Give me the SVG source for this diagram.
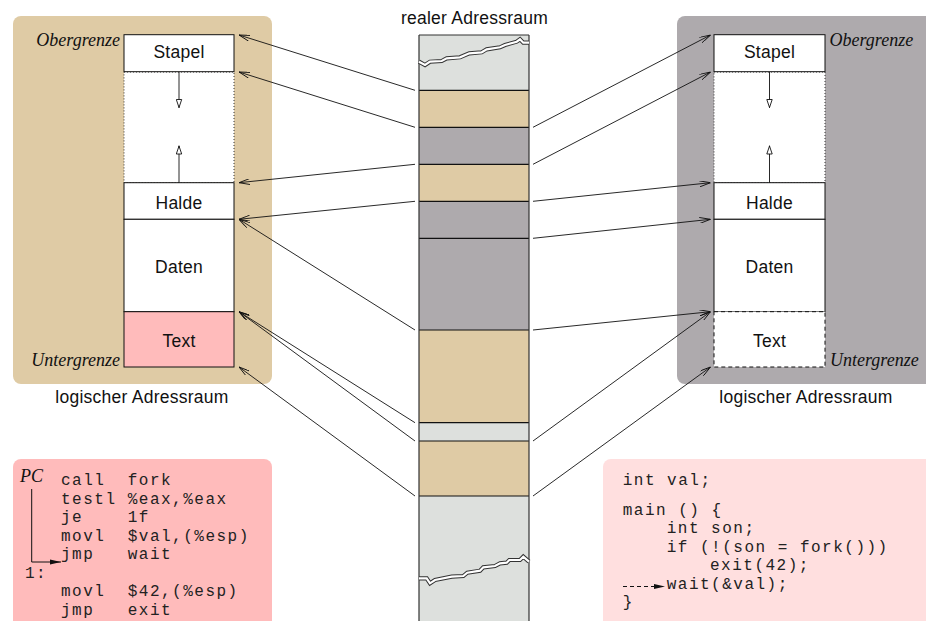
<svg xmlns="http://www.w3.org/2000/svg" width="926" height="621" viewBox="0 0 926 621">
<style>
.lbl{font-family:"Liberation Sans",Arial,sans-serif;font-size:17.5px;fill:#111;text-anchor:middle;letter-spacing:0.25px}
.it{font-family:"Liberation Serif","Times New Roman",serif;font-style:italic;font-size:18px;fill:#111}
.code{font-family:"Liberation Mono","Courier New",monospace;font-size:16px;fill:#222;letter-spacing:1.5px}
.box{fill:#fff;stroke:#111;stroke-width:1}
.dot{fill:#fff;stroke:#333;stroke-width:1;stroke-dasharray:1 2}
.conn{fill:none;stroke:#111;stroke-width:0.9;marker-end:url(#a)}
.sep{stroke:#111;stroke-width:1.2}
.tan{fill:#dfcba5}
.gry{fill:#aeaaad}
.lgt{fill:#dde0dd}
</style>
<defs>
<marker id="a" viewBox="0 0 11 6" refX="11" refY="3" markerWidth="11" markerHeight="6" markerUnits="userSpaceOnUse" orient="auto">
<path d="M0,0 L11,3 L0,6" fill="none" stroke="#111" stroke-width="0.9"/>
</marker>
<marker id="t" viewBox="0 0 9 7" refX="9" refY="3.5" markerWidth="9" markerHeight="7" markerUnits="userSpaceOnUse" orient="auto">
<path d="M0.5,0.8 L8.5,3.5 L0.5,6.2 Z" fill="#fff" stroke="#111" stroke-width="0.9"/>
</marker>
<marker id="f" viewBox="0 0 11 6" refX="11" refY="3" markerWidth="11" markerHeight="6" markerUnits="userSpaceOnUse" orient="auto">
<path d="M0,0.5 L11,3 L0,5.5 Z" fill="#111"/>
</marker>
</defs>
<rect width="926" height="621" fill="#fff"/>

<g id="left-space">
<rect x="13" y="16" width="259" height="368" rx="8" class="tan"/>
<rect x="124" y="72" width="110" height="110.7" class="dot"/>
<rect x="124" y="34.7" width="110" height="37" class="box"/>
<text x="179" y="58" class="lbl">Stapel</text>
<rect x="124" y="182.7" width="110" height="36.6" class="box"/>
<text x="179" y="209" class="lbl">Halde</text>
<rect x="124" y="219.3" width="110" height="92.4" class="box"/>
<text x="179" y="273" class="lbl">Daten</text>
<rect x="124" y="311.7" width="110" height="55.3" fill="#ffbbbb" stroke="#111" stroke-width="1"/>
<text x="179" y="347" class="lbl">Text</text>
<line x1="179" y1="72" x2="179" y2="108" stroke="#111" stroke-width="0.9" marker-end="url(#t)"/>
<line x1="179" y1="182.7" x2="179" y2="145.5" stroke="#111" stroke-width="0.9" marker-end="url(#t)"/>
<text x="120" y="46" class="it" text-anchor="end">Obergrenze</text>
<text x="120" y="365.5" class="it" text-anchor="end">Untergrenze</text>
<text x="142" y="403" class="lbl">logischer Adressraum</text>
</g>

<g id="right-space">
<rect x="677" y="16" width="270" height="368" rx="8" class="gry"/>
<rect x="714" y="72" width="111" height="110.7" class="dot"/>
<rect x="714" y="34.7" width="111" height="37" class="box"/>
<text x="769.5" y="58" class="lbl">Stapel</text>
<rect x="714" y="182.7" width="111" height="36.6" class="box"/>
<text x="769.5" y="209" class="lbl">Halde</text>
<rect x="714" y="219.3" width="111" height="92.4" class="box"/>
<text x="769.5" y="273" class="lbl">Daten</text>
<rect x="714" y="311.7" width="111" height="55.3" fill="#fff" stroke="#111" stroke-width="1" stroke-dasharray="4 3"/>
<text x="769.5" y="347" class="lbl">Text</text>
<line x1="769.5" y1="72" x2="769.5" y2="108" stroke="#111" stroke-width="0.9" marker-end="url(#t)"/>
<line x1="769.5" y1="182.7" x2="769.5" y2="145.5" stroke="#111" stroke-width="0.9" marker-end="url(#t)"/>
<text x="829.5" y="46" class="it">Obergrenze</text>
<text x="830" y="365.5" class="it">Untergrenze</text>
<text x="806" y="403" class="lbl">logischer Adressraum</text>
</g>

<g id="real-space">
<text x="474.5" y="24" class="lbl">realer Adressraum</text>
<rect x="419" y="35" width="110" height="55.3" class="lgt"/>
<rect x="419" y="90.3" width="110" height="37" class="tan"/>
<rect x="419" y="127.3" width="110" height="37" class="gry"/>
<rect x="419" y="164.3" width="110" height="37" class="tan"/>
<rect x="419" y="201.3" width="110" height="128.7" class="gry"/>
<rect x="419" y="330" width="110" height="92.7" class="tan"/>
<rect x="419" y="422.7" width="110" height="18.3" class="lgt"/>
<rect x="419" y="441" width="110" height="55" class="tan"/>
<rect x="419" y="496" width="110" height="130" class="lgt"/>
<path d="M419,90.3H529M419,127.3H529M419,164.3H529M419,201.3H529M419,238.3H529M419,330H529M419,422.7H529M419,441H529M419,496H529" class="sep"/>
<path d="M419,35H529M419,35V621M529,35V621" fill="none" stroke="#333" stroke-width="1.2"/>
<path d="M419,61.7 L425,65 L430,61.7 L441.7,61 L446.7,58.3 L460,57.3 L469.3,53.3 L481.7,52.3 L486.7,49.3 L500,47.3 L505,45 L516.7,41.7 L520,39.3 L523.3,42.7 L529,42.7" fill="none" stroke="#333" stroke-width="4.2"/>
<path d="M419,61.7 L425,65 L430,61.7 L441.7,61 L446.7,58.3 L460,57.3 L469.3,53.3 L481.7,52.3 L486.7,49.3 L500,47.3 L505,45 L516.7,41.7 L520,39.3 L523.3,42.7 L529,42.7" fill="none" stroke="#fff" stroke-width="2.2"/>
<path d="M419,578.3 L426.7,578.3 L430,583.3 L435,580 L451.7,576.7 L463.3,576 L467.3,572.7 L480,570.7 L483.3,567.3 L495,566 L500,563.3 L506.7,562.7 L509.3,560 L520,560 L523.3,556.7 L529,561.7" fill="none" stroke="#333" stroke-width="4.2"/>
<path d="M419,578.3 L426.7,578.3 L430,583.3 L435,580 L451.7,576.7 L463.3,576 L467.3,572.7 L480,570.7 L483.3,567.3 L495,566 L500,563.3 L506.7,562.7 L509.3,560 L520,560 L523.3,556.7 L529,561.7" fill="none" stroke="#fff" stroke-width="2.2"/>
</g>

<g id="connectors">
<line x1="415" y1="90.3" x2="239" y2="35" class="conn"/>
<line x1="415" y1="127.3" x2="239" y2="72" class="conn"/>
<line x1="415" y1="164.3" x2="239" y2="182.7" class="conn"/>
<line x1="415" y1="201.3" x2="239" y2="219.3" class="conn"/>
<line x1="415" y1="330" x2="239" y2="219.3" class="conn"/>
<line x1="415" y1="422.7" x2="239" y2="311.7" class="conn"/>
<line x1="415" y1="441" x2="239" y2="311.7" class="conn"/>
<line x1="415" y1="496" x2="239" y2="367" class="conn"/>
<line x1="533" y1="127.3" x2="710.5" y2="35" class="conn"/>
<line x1="533" y1="164.3" x2="710.5" y2="72" class="conn"/>
<line x1="533" y1="201.3" x2="710.5" y2="182.7" class="conn"/>
<line x1="533" y1="238.3" x2="710.5" y2="219.3" class="conn"/>
<line x1="533" y1="330" x2="710.5" y2="311.7" class="conn"/>
<line x1="533" y1="441" x2="710.5" y2="311.7" class="conn"/>
<line x1="533" y1="496" x2="710.5" y2="367" class="conn"/>
</g>

<g id="asm-code">
<rect x="13" y="459" width="259" height="200" rx="8" fill="#ffbbbb"/>
<text x="20" y="482" class="it" font-size="17">PC</text>
<path d="M31.7,489 V562 H61" fill="none" stroke="#111" stroke-width="1" marker-end="url(#f)"/>
<text class="code"><tspan x="61" y="485">call</tspan><tspan x="127.7" y="485">fork</tspan></text>
<text class="code"><tspan x="61" y="503.5">testl</tspan><tspan x="127.7" y="503.5">%eax,%eax</tspan></text>
<text class="code"><tspan x="61" y="522">je</tspan><tspan x="127.7" y="522">1f</tspan></text>
<text class="code"><tspan x="61" y="540.5">movl</tspan><tspan x="127.7" y="540.5">$val,(%esp)</tspan></text>
<text class="code"><tspan x="61" y="559">jmp</tspan><tspan x="127.7" y="559">wait</tspan></text>
<text class="code" x="25" y="577.6">1:</text>
<text class="code"><tspan x="61" y="596.2">movl</tspan><tspan x="127.7" y="596.2">$42,(%esp)</tspan></text>
<text class="code"><tspan x="61" y="614.8">jmp</tspan><tspan x="127.7" y="614.8">exit</tspan></text>
</g>

<g id="c-code">
<rect x="603" y="459" width="340" height="200" rx="8" fill="#ffdfdf"/>
<text class="code" x="622.7" y="485">int val;</text>
<text class="code" x="622.7" y="515">main () {</text>
<text class="code" x="666.7" y="533">int son;</text>
<text class="code" x="666.7" y="551.5">if (!(son = fork()))</text>
<text class="code" x="710" y="570">exit(42);</text>
<text class="code" x="666.7" y="588.5">wait(&amp;val);</text>
<text class="code" x="622.7" y="607">}</text>
<line x1="623" y1="586.5" x2="665" y2="586.5" stroke="#111" stroke-width="1" stroke-dasharray="4 3" marker-end="url(#f)"/>
</g>
</svg>
